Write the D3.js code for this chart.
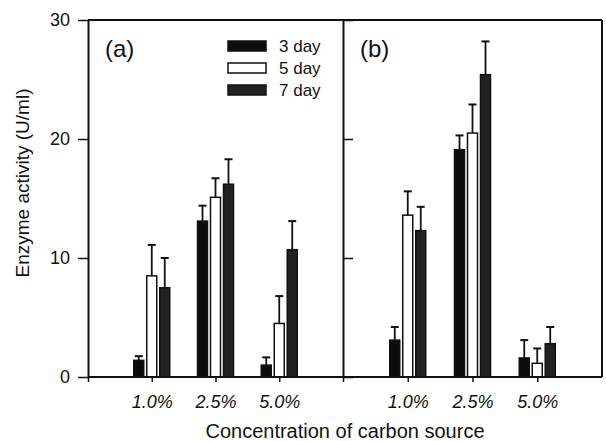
<!DOCTYPE html>
<html>
<head>
<meta charset="utf-8">
<script src="https://cdn.jsdelivr.net/npm/d3@7"></script>
<style>
  body { margin: 0; background: #fff; }
  text { font-family: "Liberation Sans", Arial, sans-serif; fill: #111; }
</style>
</head>
<body>
<div id="chart-area"></div>
<script>
const width = 606;
const height = 441;
const margin = {top: 20, left: 88, bottom: 377, right: 602};
const divider = 343;

// data
const categories = ["1.0%", "2.5%", "5.0%"];
const series = ["3 day", "5 day", "7 day"];
const yTicks = [0, 10, 20, 30];

const panelA3 = [1.4, 13.1, 1.0];
const panelA5 = [8.5, 15.1, 4.5];
const panelA7 = [7.5, 16.2, 10.7];
const panelA3err = [0.35, 1.3, 0.65];
const panelA5err = [2.6, 1.6, 2.3];
const panelA7err = [2.5, 2.1, 2.4];

const panelB3 = [3.1, 19.1, 1.6];
const panelB5 = [13.6, 20.5, 1.15];
const panelB7 = [12.3, 25.4, 2.8];
const panelB3err = [1.1, 1.2, 1.5];
const panelB5err = [2.0, 2.4, 1.25];
const panelB7err = [2.0, 2.8, 1.4];

const fills = ["#0d0d0d", "#ffffff", "#222222"];

var svg = d3.select("#chart-area").append("svg")
	.attr("width", width)
	.attr("height", height);

var y = d3.scaleLinear()
	.domain([0, 30])
	.range([margin.bottom, margin.top]);

var inner = d3.scaleBand()
	.domain(series)
	.range([-18, 18])
	.paddingInner(0.23);

function rows(v3, v5, v7, e3, e5, e7) {
	var out = [];
	categories.forEach(function(c, i) {
		out.push({cat: i + 1, s: series[0], v: v3[i], e: e3[i], k: 0});
		out.push({cat: i + 1, s: series[1], v: v5[i], e: e5[i], k: 1});
		out.push({cat: i + 1, s: series[2], v: v7[i], e: e7[i], k: 2});
	});
	return out;
}

function renderPanel(x0, x1, data, label) {
	var x = d3.scaleLinear()
		.domain([0, 4])
		.range([x0, x1]);

	var g = svg.append("g");

	// error bars first
	g.selectAll(".err")
		.data(data)
		.enter().append("line")
		.attr("x1", d => x(d.cat) + inner(d.s) + inner.bandwidth() / 2)
		.attr("x2", d => x(d.cat) + inner(d.s) + inner.bandwidth() / 2)
		.attr("y1", d => y(d.v))
		.attr("y2", d => y(d.v + d.e))
		.attr("stroke", "#111")
		.attr("stroke-width", 1.8);

	g.selectAll(".cap")
		.data(data)
		.enter().append("line")
		.attr("x1", d => x(d.cat) + inner(d.s) + inner.bandwidth() / 2 - 4)
		.attr("x2", d => x(d.cat) + inner(d.s) + inner.bandwidth() / 2 + 4)
		.attr("y1", d => y(d.v + d.e))
		.attr("y2", d => y(d.v + d.e))
		.attr("stroke", "#111")
		.attr("stroke-width", 2);

	g.selectAll(".bar")
		.data(data)
		.enter().append("rect")
		.attr("x", d => x(d.cat) + inner(d.s))
		.attr("y", d => y(d.v))
		.attr("width", inner.bandwidth())
		.attr("height", d => y(0) - y(d.v))
		.attr("fill", d => fills[d.k])
		.attr("stroke", "#111")
		.attr("stroke-width", 1.5);

	var ax = g.append("g")
		.attr("transform", `translate(0,${margin.bottom})`)
		.call(d3.axisBottom(x)
			.tickValues([0, 1, 2, 3])
			.tickSize(5)
			.tickPadding(13)
			.tickFormat(d => d === 0 ? "" : categories[d - 1]));
	ax.select(".domain").remove();
	ax.selectAll("line").attr("stroke", "#111").attr("stroke-width", 1.5);
	ax.selectAll("text")
		.style("font-family", '"Liberation Sans", Arial, sans-serif')
		.style("font-size", "18px")
		.style("font-style", "italic")
		.attr("fill", "#111");

	g.append("text")
		.attr("x", x0 + 17)
		.attr("y", 57)
		.style("font-size", "24px")
		.text(label);
}

renderPanel(margin.left, divider, rows(panelA3, panelA5, panelA7, panelA3err, panelA5err, panelA7err), "(a)");
renderPanel(divider, margin.right, rows(panelB3, panelB5, panelB7, panelB3err, panelB5err, panelB7err), "(b)");

// left axis
var yAxis = svg.append("g")
	.attr("transform", `translate(${margin.left},0)`)
	.call(d3.axisLeft(y).tickValues(yTicks).tickSize(10).tickPadding(8).tickSizeOuter(0));
yAxis.select(".domain").attr("stroke", "#111").attr("stroke-width", 2);
yAxis.selectAll("line").attr("stroke", "#111").attr("stroke-width", 1.5);
yAxis.selectAll("text")
	.style("font-family", '"Liberation Sans", Arial, sans-serif')
	.style("font-size", "18px")
	.attr("fill", "#111");

// divider ticks into panel b
var yDiv = svg.append("g")
	.attr("transform", `translate(${divider},0)`)
	.call(d3.axisRight(y).tickValues(yTicks).tickSize(10).tickFormat("").tickSizeOuter(0));
yDiv.select(".domain").attr("stroke", "#111").attr("stroke-width", 2);
yDiv.selectAll("line").attr("stroke", "#111").attr("stroke-width", 1.5);

// frame
svg.append("line")
	.attr("x1", margin.left).attr("x2", margin.right)
	.attr("y1", y(30)).attr("y2", y(30))
	.attr("stroke", "#111").attr("stroke-width", 2);
svg.append("line")
	.attr("x1", margin.left).attr("x2", margin.right)
	.attr("y1", y(0)).attr("y2", y(0))
	.attr("stroke", "#111").attr("stroke-width", 2);
svg.append("line")
	.attr("x1", margin.right).attr("x2", margin.right)
	.attr("y1", y(0)).attr("y2", y(30))
	.attr("stroke", "#111").attr("stroke-width", 2);

// legend
var legend = svg.append("g");
series.forEach(function(s, i) {
	legend.append("rect")
		.attr("x", 228)
		.attr("y", 41 + i * 22)
		.attr("width", 38)
		.attr("height", 10)
		.attr("fill", fills[i])
		.attr("stroke", "#111")
		.attr("stroke-width", 1.5);
	legend.append("text")
		.attr("x", 279)
		.attr("y", 52 + i * 22)
		.style("font-size", "17px")
		.text(s);
});

// axis titles
svg.append("text")
	.attr("transform", "translate(29,183) rotate(-90)")
	.attr("text-anchor", "middle")
	.style("font-size", "19px")
	.text("Enzyme activity (U/ml)");

svg.append("text")
	.attr("x", 345)
	.attr("y", 438)
	.attr("text-anchor", "middle")
	.style("font-size", "20px")
	.text("Concentration of carbon source");
</script>
</body>
</html>
